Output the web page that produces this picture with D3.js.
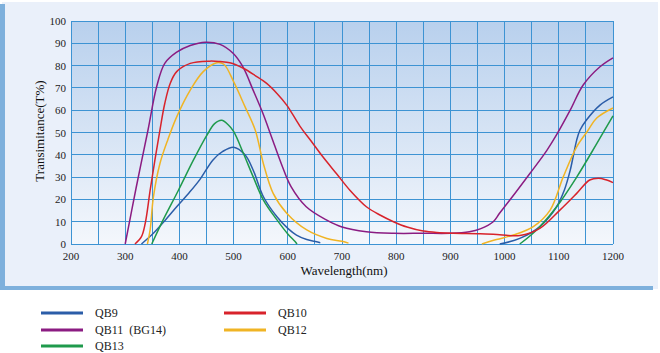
<!DOCTYPE html>
<html><head><meta charset="utf-8">
<script src="https://cdn.jsdelivr.net/npm/d3@7"></script>
<style>body{margin:0;background:#fff}svg{display:block}text{font-family:"Liberation Serif","DejaVu Serif",serif}</style>
</head><body>
<script>
const xTicks=[200,300,400,500,600,700,800,900,1000,1100,1200];
const yTicks=[0,10,20,30,40,50,60,70,80,90,100];
const seriesNames=["QB9","QB11  (BG14)","QB13","QB10","QB12"];
const seriesColors=["#2b5da8","#8b1c82","#1f9a4c","#d8232b","#f0b424"];
// each series: list of segments of [nm, T%]
const qb9=[
 [[330,0],[352,4.8],[375,11],[395,16.7],[418,23],[438,29],[462,37.7],[480,41.5],[500,43.4],[521,40],[536,33.2],[555,21.2],[580,12.2],[600,7],[616,4],[635,2],[653,1],[660,0.6]],
 [[991,0],[1028,2.5],[1065,7.8],[1096,16.7],[1110,24],[1121,33],[1133,46.6],[1139,51],[1151,55.6],[1176,62.3],[1200,66]]];
const qb11=[
 [[300,0],[320,25],[342,51],[358,70.5],[373,81],[395,86],[420,89],[448,90.5],[475,89.5],[499,85.5],[517,79.5],[536,69],[554,58.6],[570,48],[588,36],[606,25.7],[634,16.7],[671,10.8],[700,7.6],[745,5.5],[795,4.8],[850,4.8],[900,4.8],[935,5.5],[955,6.8],[979,10],[991,13.9],[1020,23],[1047,31.7],[1078,42],[1096,49],[1121,60],[1145,71.3],[1176,79.5],[1200,83.5]]];
const qb13=[
 [[349,0],[370,10.8],[398,24],[426,37.7],[450,48.5],[465,54],[478,55.5],[490,53.5],[500,50.5],[518,40.7],[536,30.2],[555,19.7],[580,10.8],[600,4.5],[613,1.2],[617,0]],
 [[1028,0],[1059,6.3],[1096,16.7],[1133,30],[1170,45],[1200,57.5]]];
const qb10=[
 [[318,0],[330,3.3],[337,9.3],[346,24],[355,38],[364,51],[373,63],[383,72],[395,77.3],[420,81],[456,82],[475,81.8],[493,81.3],[518,78.8],[540,75.5],[561,72],[580,67.5],[598,62.3],[622,53],[645,45.5],[665,39],[690,31.5],[715,24],[745,16.7],[770,13],[795,10],[820,7.6],[850,5.8],[880,5.1],[905,4.8],[955,4.6],[991,4.2],[1028,3.8],[1065,7],[1102,15.2],[1133,22.7],[1157,28.7],[1173,29.5],[1187,28.8],[1200,27.5]]];
const qb12=[
 [[341,0],[346,6.3],[352,21],[364,36],[379,47],[395,57],[420,69],[444,77.3],[469,81.3],[482,80.6],[500,72.8],[521,61.6],[540,51],[555,36],[573,22.7],[598,13.8],[635,6.3],[672,2.5],[700,1.2],[712,0.4]],
 [[958,0],[985,2],[1016,4],[1053,7.8],[1084,15.2],[1108,30],[1133,43.6],[1154,51],[1170,56.5],[1200,61]]];
const seriesData=[qb9,qb11,qb13,qb10,qb12];
const drawOrder=[0,2,4,1,3];

const W=660,H=353;
const svg=d3.select("body").append("svg").attr("width",W).attr("height",H);
const defs=svg.append("defs");
const g=defs.append("linearGradient").attr("id","pg").attr("x1",0).attr("y1",0).attr("x2",0).attr("y2",1);
g.append("stop").attr("offset","0%").attr("stop-color","#b8d0ed");
g.append("stop").attr("offset","100%").attr("stop-color","#f4f7fc");

// panel
svg.append("rect").attr("x",2).attr("y",2).attr("width",656).attr("height",287).attr("fill","#eaf0fa");
svg.append("rect").attr("x",0).attr("y",4).attr("width",5).attr("height",286).attr("fill","#7eb0dc");
svg.append("rect").attr("x",0).attr("y",286).attr("width",653).attr("height",4).attr("fill","#7eb0dc");

const x=d3.scaleLinear().domain([200,1200]).range([71,613]);
const y=d3.scaleLinear().domain([0,100]).range([244,21]);

svg.append("rect").attr("x",x(200)).attr("y",y(100)).attr("width",x(1200)-x(200)).attr("height",y(0)-y(100)).attr("fill","url(#pg)");

// grid
const gridX=d3.range(200,1201,50);
svg.append("g").selectAll("line").data(gridX).join("line")
 .attr("x1",d=>x(d)).attr("x2",d=>x(d)).attr("y1",y(0)).attr("y2",y(100))
 .attr("stroke","#3d93d3").attr("stroke-width",1).attr("shape-rendering","crispEdges");
svg.append("g").selectAll("line").data(yTicks).join("line")
 .attr("x1",x(200)).attr("x2",x(1200)).attr("y1",d=>y(d)).attr("y2",d=>y(d))
 .attr("stroke","#3d93d3").attr("stroke-width",1).attr("shape-rendering","crispEdges");

// axes labels
svg.append("g").selectAll("text").data(yTicks).join("text")
 .attr("x",66).attr("y",d=>y(d)+4).attr("text-anchor","end").attr("font-size",11).attr("fill","#222").text(d=>d);
svg.append("g").selectAll("text").data(xTicks).join("text")
 .attr("x",d=>x(d)).attr("y",260).attr("text-anchor","middle").attr("font-size",11).attr("fill","#222").text(d=>d);
svg.append("text").attr("x",344).attr("y",275).attr("text-anchor","middle").attr("font-size",13).attr("fill","#111").text("Wavelength(nm)");
svg.append("text").attr("transform","translate(44,131) rotate(-90)").attr("text-anchor","middle").attr("font-size",13).attr("fill","#111").text("Transimitance(T%)");

// lines
const line=d3.line().x(d=>x(d[0])).y(d=>y(Math.max(0,d[1]))).curve(d3.curveCatmullRom.alpha(0.5));
drawOrder.forEach(i=>{
  seriesData[i].forEach(seg=>{
    svg.append("path").attr("d",line(seg)).attr("fill","none").attr("stroke",seriesColors[i]).attr("stroke-width",1.5);
  });
});

// legend
const legPos=[[41,313],[41,330],[41,346],[224,313],[224,330]];
seriesNames.forEach((n,i)=>{
  const [lx,ly]=legPos[i];
  svg.append("line").attr("x1",lx).attr("x2",lx+42).attr("y1",ly).attr("y2",ly).attr("stroke",seriesColors[i]).attr("stroke-width",3);
  svg.append("text").attr("x",lx+54).attr("y",ly+4).attr("font-size",12).attr("fill","#222").style("white-space","pre").text(n);
});
</script>
</body></html>
